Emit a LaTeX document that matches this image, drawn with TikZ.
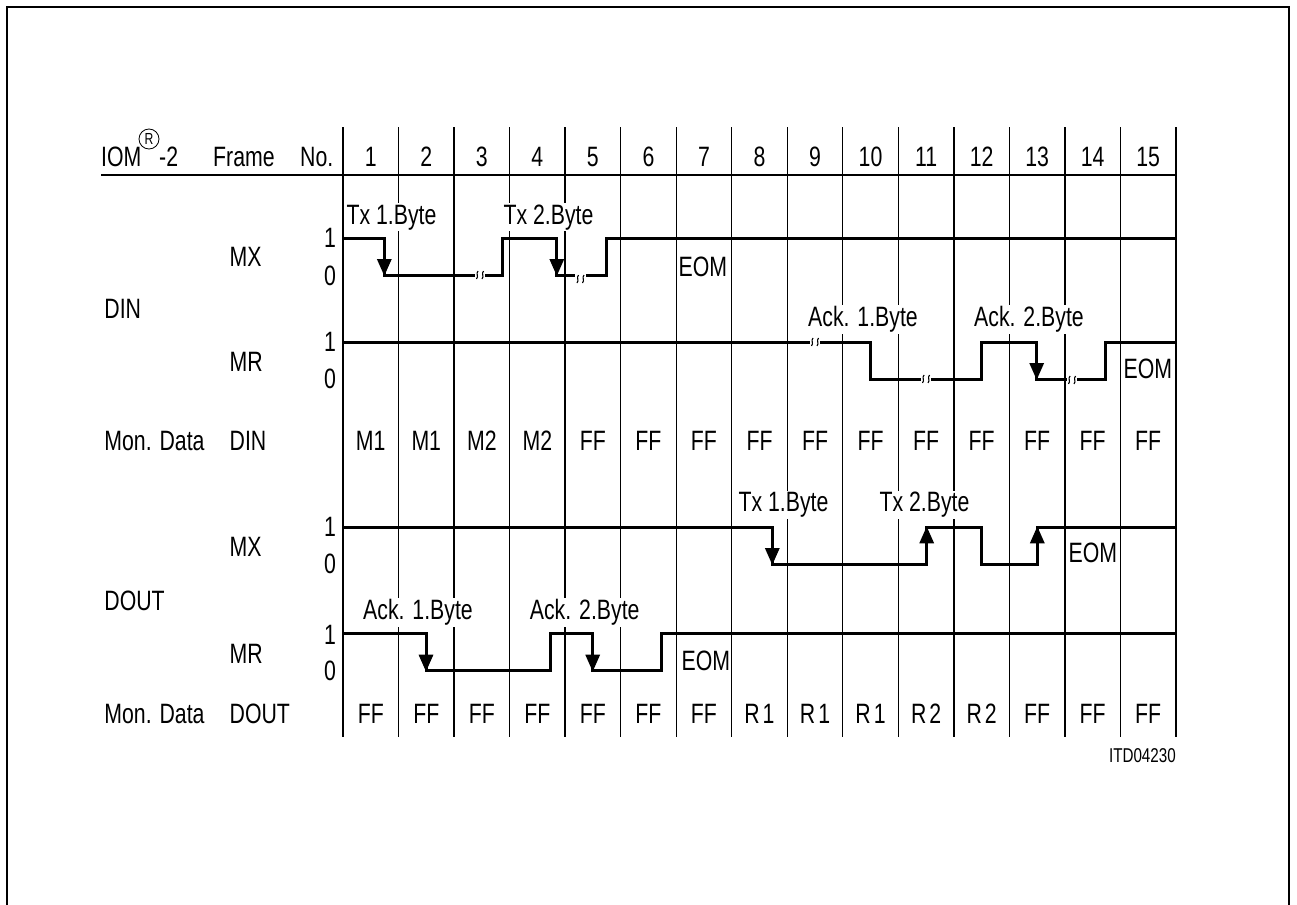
\documentclass[tikz,border=0pt]{standalone}
\usepackage{fontspec}
\setmainfont{Liberation Sans}[FakeStretch=0.76]
\usetikzlibrary{arrows.meta}
\newcommand{\wavebreak}[2]{%
  \draw[brkmark] ({#1-2},{#2-4}) .. controls ({#1-4.5},{#2-1}) and ({#1-1},{#2+1}) .. ({#1-3.5},{#2+4});
  \draw[brkmark] ({#1+3.5},{#2-4}) .. controls ({#1+1},{#2-1}) and ({#1+4.5},{#2+1}) .. ({#1+2},{#2+4});}
\begin{document}
\begin{tikzpicture}[x=1bp,y=-1bp,
  every node/.style={font=\fontsize{28bp}{30bp}\selectfont, inner sep=1.5bp},
  txt/.style={anchor=base},
  lbl/.style={anchor=base west},
  bytelbl/.style={anchor=base, fill=white, inner sep=1.5bp},
  gridline/.style={line width=1.3bp},
  wave/.style={line width=3bp, line join=miter},
  tipdown/.style={line width=3bp, -{Triangle[length=17bp,width=14bp]}},
  brkmark/.style={line width=1.1bp},
  framel/.style={line width=2bp}]
\useasboundingbox (0,0) rectangle (1297,905);
% frame
\draw[framel] (7,905) -- (7,7) -- (1289,7) -- (1289,905);
% grid
\foreach \i in {0,...,15} \draw[gridline] ({343+55.533*\i},127) -- ({343+55.533*\i},737);
\draw[line width=1.5bp] (101,175) -- (1176,175);
% header
\node[lbl, inner sep=0pt] (iom) at (101,166) {IOM};
\node[draw, circle, line width=0.8bp, minimum size=20bp, inner sep=0pt, font=\fontsize{16bp}{17bp}\selectfont] (reg) at (149,139) {R};
\node[lbl, inner sep=0pt] (iomtwo) at (159,166) {-2};
\node[lbl, inner sep=0pt] (frame) at (213,166) {Frame};
\node[lbl, inner sep=0pt] (no) at (300,166) {No.};
\foreach \i in {1,...,15} \node[txt] (h\i) at ({343+55.533*(\i-0.5)},166) {\i};
% left labels
\node[txt] (dmx1) at (330,247.3) {1};
\node[txt] (dmx0) at (330,285) {0};
\node[lbl] (dmx) at (228,266.7) {MX};
\node[lbl] (din) at (102.7,318) {DIN};
\node[txt] (dmr1) at (330,351.7) {1};
\node[txt] (dmr0) at (330,388.3) {0};
\node[lbl] (dmr) at (228,371.7) {MR};
\node[lbl] (mdin) at (102.7,450) {Mon. Data};
\node[lbl] (mdinb) at (228,450) {DIN};
\node[txt] (omx1) at (330,536.7) {1};
\node[txt] (omx0) at (330,573.3) {0};
\node[lbl] (omx) at (228,556.7) {MX};
\node[lbl] (dout) at (102.7,610) {DOUT};
\node[txt] (omr1) at (330,644.3) {1};
\node[txt] (omr0) at (330,680) {0};
\node[lbl] (omr) at (228,663.3) {MR};
\node[lbl] (mdout) at (102.7,723.3) {Mon. Data};
\node[lbl] (mdoutb) at (228,723.3) {DOUT};
% data rows
\foreach \v [count=\i] in {M1,M1,M2,M2,FF,FF,FF,FF,FF,FF,FF,FF,FF,FF,FF}
  \node[txt] (vin\i) at ({343+55.533*(\i-0.5)},450) {\v};
\foreach \v [count=\i] in {FF,FF,FF,FF,FF,FF,FF,R\kern3bp 1,R\kern3bp 1,R\kern3bp 1,R\kern3bp 2,R\kern3bp 2,FF,FF,FF}
  \node[txt] (vout\i) at ({343+55.533*(\i-0.5)},723.3) {\v};
% DIN MX waveform
\draw[wave] (343,238) -- (384.3,238) -- (384.3,275) -- (475,275);
\draw[wave] (485,275) -- (502,275) -- (502,238) -- (556.8,238) -- (556.8,275) -- (575,275);
\draw[wave] (586,275) -- (606,275) -- (606,238) -- (1176,238);
\wavebreak{480}{275}
\wavebreak{580.5}{279}
\draw[tipdown] (384.3,238) -- (384.3,276);
\draw[tipdown] (556.8,238) -- (556.8,276);
% DIN MR waveform
\draw[wave] (343,342) -- (810,342);
\draw[wave] (820,342) -- (870,342) -- (870,379) -- (921,379);
\draw[wave] (931,379) -- (981.7,379) -- (981.7,342) -- (1036.7,342) -- (1036.7,379) -- (1067,379);
\draw[wave] (1077,379) -- (1105,379) -- (1105,342) -- (1176,342);
\wavebreak{815}{342}
\wavebreak{926}{379}
\wavebreak{1072}{380}
\draw[tipdown] (1036.7,342) -- (1036.7,380);
% DOUT MX waveform
\draw[wave] (343,527.3) -- (772.3,527.3) -- (772.3,564) -- (926.7,564) -- (926.7,527.3) -- (981.7,527.3) -- (981.7,564) -- (1037.3,564) -- (1037.3,527.3) -- (1176,527.3);
\draw[tipdown] (772.3,527.3) -- (772.3,565);
\draw[tipdown] (926.7,564) -- (926.7,526.3);
\draw[tipdown] (1037.3,564) -- (1037.3,526.3);
% DOUT MR waveform
\draw[wave] (343,633.3) -- (426,633.3) -- (426,670.7) -- (550,670.7) -- (550,633.3) -- (592.7,633.3) -- (592.7,670.7) -- (661.7,670.7) -- (661.7,633.3) -- (1176,633.3);
\draw[tipdown] (426,633.3) -- (426,671.7);
\draw[tipdown] (592.7,633.3) -- (592.7,671.7);
% byte labels
\node[bytelbl] (tx1a) at (391.5,224) {Tx 1.Byte};
\node[bytelbl] (tx2a) at (548.5,224) {Tx 2.Byte};
\node[bytelbl] (ack1a) at (863,326.7) {Ack. 1.Byte};
\node[bytelbl] (ack2a) at (1029,326.7) {Ack. 2.Byte};
\node[bytelbl] (tx1b) at (783.5,511.7) {Tx 1.Byte};
\node[bytelbl] (tx2b) at (924.5,511.7) {Tx 2.Byte};
\node[bytelbl] (ack1b) at (418,619.3) {Ack. 1.Byte};
\node[bytelbl] (ack2b) at (584.7,619.3) {Ack. 2.Byte};
% EOM labels
\node[lbl, inner sep=0.5bp] (eom1) at (678,276.7) {EOM};
\node[lbl, inner sep=0.5bp] (eom2) at (1123,378) {EOM};
\node[lbl, inner sep=0.5bp] (eom3) at (1068,562.7) {EOM};
\node[lbl, inner sep=0.5bp] (eom4) at (681,670) {EOM};
% figure id
\node[anchor=base east, inner sep=0pt, font=\fontsize{20bp}{22bp}\selectfont] (itd) at (1176,762) {ITD04230};
\end{tikzpicture}
\end{document}
